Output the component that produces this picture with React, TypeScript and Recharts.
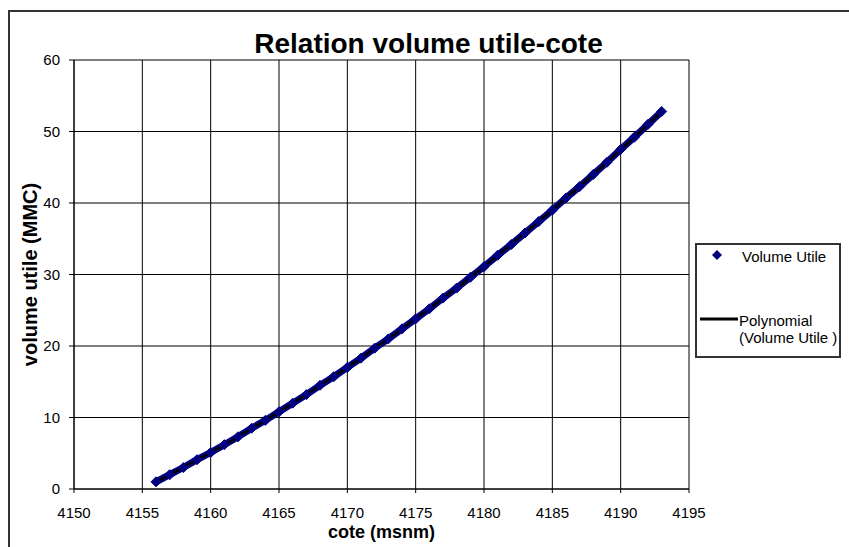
import React from 'react'
import {
  ComposedChart,
  Line,
  XAxis,
  YAxis,
  CartesianGrid,
  Label,
} from 'recharts'

// cote (msnm), one per metre
const cote = [
  4156, 4157, 4158, 4159, 4160, 4161, 4162, 4163, 4164, 4165,
  4166, 4167, 4168, 4169, 4170, 4171, 4172, 4173, 4174, 4175,
  4176, 4177, 4178, 4179, 4180, 4181, 4182, 4183, 4184, 4185,
  4186, 4187, 4188, 4189, 4190, 4191, 4192, 4193,
]

// volume utile (MMC)
const volumeUtile = [
  1.0, 2.0, 3.0, 4.1, 5.1, 6.2, 7.3, 8.5, 9.6, 10.8,
  12.0, 13.2, 14.5, 15.7, 17.0, 18.3, 19.7, 21.0, 22.4, 23.8,
  25.2, 26.7, 28.1, 29.6, 31.1, 32.7, 34.2, 35.8, 37.4, 39.0,
  40.7, 42.3, 44.0, 45.7, 47.5, 49.2, 51.0, 52.8,
]

const xTicks = [4150, 4155, 4160, 4165, 4170, 4175, 4180, 4185, 4190, 4195]
const yTicks = [0, 10, 20, 30, 40, 50, 60]

const data = cote.map((c, i) => ({ cote: c, volume: volumeUtile[i], poly: volumeUtile[i] }))

const FONT = '"Liberation Sans", Arial, sans-serif'

const Diamond = (props: any) => {
  const { cx, cy } = props
  if (cx == null || cy == null) return null
  const r = 5
  return (
    <path
      d={`M${cx},${cy - r}L${cx + r},${cy}L${cx},${cy + r}L${cx - r},${cy}Z`}
      fill="#000080"
      stroke="#000080"
    />
  )
}

// legend drawn as a plain box to the right of the plot, like the Excel one
const LegendBox = () => (
  <div
    style={{
      position: 'absolute',
      left: 695,
      top: 243,
      width: 146,
      height: 115,
      boxSizing: 'border-box',
      border: '2px solid #333',
      background: '#fff',
      fontFamily: FONT,
      fontSize: 15,
      color: '#000',
    }}
  >
    <svg width={146} height={115} style={{ position: 'absolute', left: -2, top: -2 }}>
      <path d="M22,7L27,12L22,17L17,12Z" fill="#000080" />
      <line x1={5} y1={76} x2={43} y2={76} stroke="#000" strokeWidth={3} />
    </svg>
    <div style={{ position: 'absolute', left: 45, top: 3 }}>Volume Utile</div>
    <div style={{ position: 'absolute', left: 42, top: 67, lineHeight: '17px' }}>
      Polynomial
      <br />
      (Volume Utile )
    </div>
  </div>
)

export default function App() {
  return (
    <div style={{ position: 'absolute', left: 0, top: 0, width: 849, height: 547, background: '#fff', overflow: 'hidden' }}>
      <div
        style={{
          position: 'absolute',
          left: 8,
          top: 10,
          width: 860,
          height: 560,
          border: '2px solid #333',
        }}
      />
      <div
        style={{
          position: 'absolute',
          left: 8,
          width: 841,
          top: 27,
          textAlign: 'center',
          fontFamily: FONT,
          fontWeight: 'bold',
          fontSize: 28,
          lineHeight: '34px',
        }}
      >
        Relation volume utile-cote
      </div>
      <ComposedChart
        width={849}
        height={547}
        data={data}
        margin={{ top: 60, right: 160, bottom: 0, left: 0 }}
        style={{ position: 'absolute', left: 0, top: 0 }}
      >
        <CartesianGrid stroke="#000" strokeWidth={1} />
        <XAxis
          dataKey="cote"
          type="number"
          domain={[4150, 4195]}
          ticks={xTicks}
          interval={0}
          height={58}
          tickSize={4}
          tickMargin={14}
          axisLine={{ stroke: '#000' }}
          tickLine={{ stroke: '#000' }}
          tick={{ fill: '#000', fontSize: 15, fontFamily: FONT }}
        >
          <Label
            value="cote (msnm)"
            position="insideBottom"
            offset={9}
            style={{ fill: '#000', fontSize: 18, fontWeight: 'bold', fontFamily: FONT }}
          />
        </XAxis>
        <YAxis
          type="number"
          domain={[0, 60]}
          ticks={yTicks}
          interval={0}
          width={74}
          tickSize={5}
          tickMargin={9}
          axisLine={{ stroke: '#000' }}
          tickLine={{ stroke: '#000' }}
          tick={{ fill: '#000', fontSize: 15, fontFamily: FONT }}
        >
          <Label
            value="volume utile (MMC)"
            angle={-90}
            position="insideLeft"
            offset={30}
            style={{ fill: '#000', fontSize: 20, fontWeight: 'bold', fontFamily: FONT, textAnchor: 'middle' }}
          />
        </YAxis>
        <Line
          name="Volume Utile"
          dataKey="volume"
          type="linear"
          stroke="#000080"
          strokeWidth={7}
          dot={<Diamond />}
          activeDot={false}
          isAnimationActive={false}
        />
        <Line
          name="Polynomial (Volume Utile )"
          dataKey="poly"
          type="monotone"
          stroke="#000"
          strokeWidth={2.5}
          dot={false}
          activeDot={false}
          isAnimationActive={false}
        />
      </ComposedChart>
      <LegendBox />
    </div>
  )
}
